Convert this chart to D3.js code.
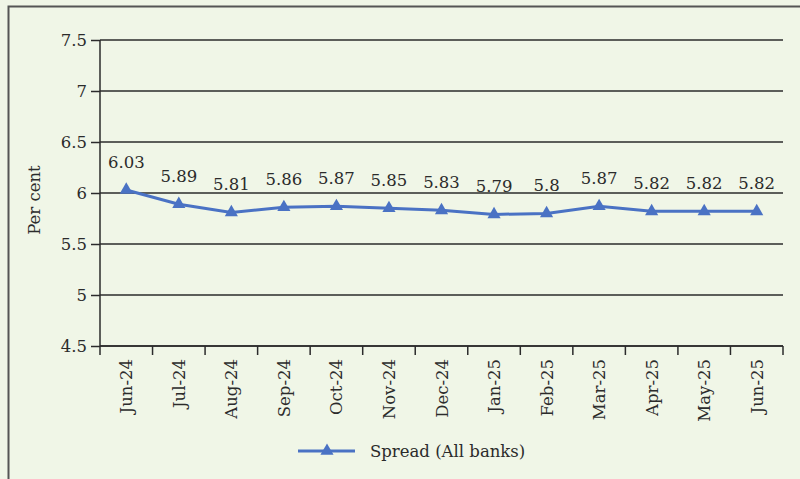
<!DOCTYPE html>
<html><head><meta charset="utf-8">
<script src="https://cdn.jsdelivr.net/npm/d3@7"></script>
<style>html,body{margin:0;padding:0;background:#f0f6e7;}svg{display:block;}</style>
</head><body>
<svg id="c" width="800" height="479"></svg>
<script>
const categories = ["Jun-24","Jul-24","Aug-24","Sep-24","Oct-24","Nov-24","Dec-24","Jan-25","Feb-25","Mar-25","Apr-25","May-25","Jun-25"];
const spreadValues = [6.03,5.89,5.81,5.86,5.87,5.85,5.83,5.79,5.8,5.87,5.82,5.82,5.82];
const yTicks = [4.5,5,5.5,6,6.5,7,7.5];
const seriesName = "Spread (All banks)";
const yTitle = "Per cent";

const svg = d3.select("#c");
const font = "'DejaVu Serif', 'Liberation Serif', serif";
const fs = 16.5;
const ink = "#2b2b2b";
const blue = "#4a72c4";
const L = 100, R = 783, T = 40, B = 346;

svg.append("rect").attr("width",800).attr("height",479).attr("fill","#f0f6e7");
svg.append("path").attr("d","M8.5,479 V6.5 H800").attr("fill","none").attr("stroke","#555").attr("stroke-width",2);

const x = d3.scaleBand().domain(categories).range([L,R]).padding(0);
const y = d3.scaleLinear().domain([4.5,7.5]).range([B,T]);

svg.append("g").selectAll("line").data(yTicks).join("line")
  .attr("x1",L).attr("x2",R).attr("y1",d=>y(d)).attr("y2",d=>y(d))
  .attr("stroke",ink).attr("stroke-width",1.5);

const yAxis = svg.append("g").attr("transform",`translate(${L},0)`)
  .call(d3.axisLeft(y).tickValues(yTicks).tickSize(9).tickPadding(4).tickFormat(d=>d3.format("")(d)));
yAxis.select(".domain").attr("stroke",ink).attr("stroke-width",1.5).attr("d",`M0,${T}V${B}`);
yAxis.selectAll(".tick line").attr("stroke",ink).attr("stroke-width",1.5);
yAxis.selectAll("text").attr("font-family",font).attr("font-size",fs).attr("fill",ink);

const xg = svg.append("g").attr("transform",`translate(0,${B})`);
xg.append("line").attr("x1",L).attr("x2",R).attr("stroke",ink).attr("stroke-width",1.5);
const bounds = categories.map(c=>x(c)).concat([x(categories[categories.length-1])+x.bandwidth()]);
xg.selectAll("line.tk").data(bounds).join("line").attr("class","tk")
  .attr("x1",d=>d).attr("x2",d=>d).attr("y1",0).attr("y2",9)
  .attr("stroke",ink).attr("stroke-width",1.5);
xg.selectAll("text").data(categories).join("text")
  .attr("transform",d=>`translate(${x(d)+x.bandwidth()/2+6},${13}) rotate(-90)`)
  .attr("text-anchor","end").attr("font-family",font).attr("font-size",fs).attr("fill",ink)
  .text(d=>d);

svg.append("text").attr("transform","translate(40,200) rotate(-90)")
  .attr("text-anchor","middle").attr("font-family",font).attr("font-size",fs).attr("fill",ink).text(yTitle);

const cx = d=>x(d)+x.bandwidth()/2;
const line = d3.line().x((d,i)=>cx(categories[i])).y(d=>y(d));
svg.append("path").datum(spreadValues).attr("d",line).attr("fill","none").attr("stroke",blue).attr("stroke-width",3);

const tri = d3.symbol().type(d3.symbolTriangle).size(75);
svg.append("g").selectAll("path").data(spreadValues).join("path")
  .attr("d",tri).attr("transform",(d,i)=>`translate(${cx(categories[i])},${y(d)})`).attr("fill",blue);

svg.append("g").selectAll("text").data(spreadValues).join("text")
  .attr("x",(d,i)=>cx(categories[i])).attr("y",d=>y(d)-22)
  .attr("text-anchor","middle").attr("font-family",font).attr("font-size",fs).attr("fill",ink)
  .text(d=>d);

const lg = svg.append("g");
lg.append("line").attr("x1",298).attr("x2",355).attr("y1",451).attr("y2",451).attr("stroke",blue).attr("stroke-width",3);
lg.append("path").attr("d",tri).attr("transform","translate(327,451)").attr("fill",blue);
lg.append("text").attr("x",370).attr("y",457).attr("font-family",font).attr("font-size",fs).attr("fill",ink).text(seriesName);
</script>
</body></html>
